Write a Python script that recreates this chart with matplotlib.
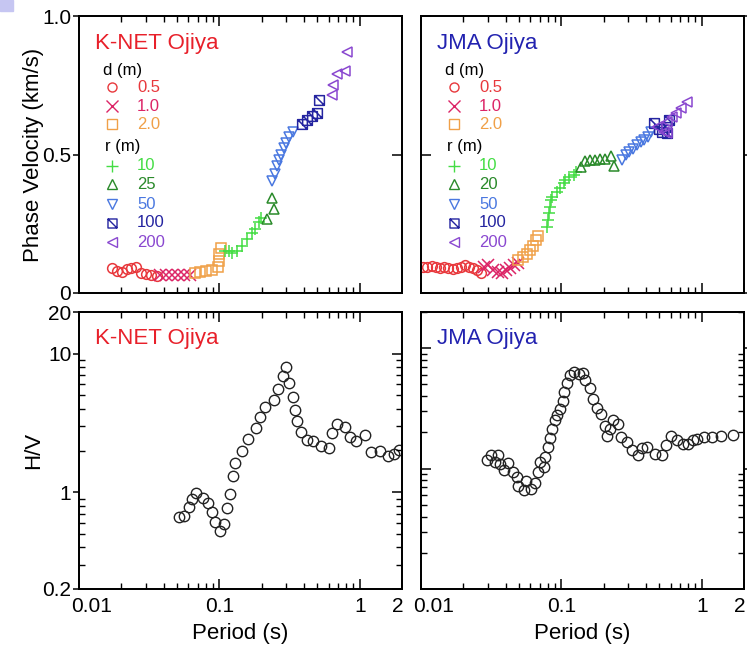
import matplotlib
matplotlib.use("Agg")
import matplotlib.pyplot as plt
from matplotlib.path import Path
from matplotlib.patches import Rectangle
from matplotlib.ticker import FixedLocator, NullFormatter
from matplotlib.transforms import ScaledTranslation

plt.rcParams['font.family'] = ['Liberation Sans', 'DejaVu Sans']

# ---- phase velocity, K-NET Ojiya ----
kn_d05_T = [0.0171, 0.0186, 0.0202, 0.0219, 0.0235, 0.0255, 0.0276, 0.0301, 0.0325, 0.0359]
kn_d05_v = [0.089, 0.081, 0.077, 0.086, 0.089, 0.095, 0.071, 0.069, 0.065, 0.061]
kn_d10_T = [0.0379, 0.0418, 0.0459, 0.0507, 0.0556, 0.0614]
kn_d10_v = [0.064, 0.064, 0.064, 0.064, 0.064, 0.066]
kn_d20_T = [0.067, 0.073, 0.080, 0.088, 0.097, 0.099, 0.100, 0.102]
kn_d20_v = [0.071, 0.076, 0.080, 0.083, 0.095, 0.115, 0.140, 0.163]
kn_r10_T = [0.110, 0.117, 0.123, 0.134, 0.145, 0.158, 0.170, 0.180, 0.191, 0.197]
kn_r10_v = [0.152, 0.150, 0.145, 0.150, 0.170, 0.195, 0.215, 0.232, 0.255, 0.270]
kn_r25_T = [0.219, 0.238, 0.244]
kn_r25_v = [0.267, 0.342, 0.303]
kn_r50_T = [0.238, 0.250, 0.258, 0.266, 0.275, 0.287, 0.300, 0.315, 0.332]
kn_r50_v = [0.405, 0.430, 0.458, 0.480, 0.500, 0.522, 0.543, 0.562, 0.580]
kn_r100_T = [0.390, 0.418, 0.459, 0.499, 0.512]
kn_r100_v = [0.610, 0.626, 0.640, 0.650, 0.698]
kn_r200_T = [0.638, 0.645, 0.690, 0.790, 0.805]
kn_r200_v = [0.715, 0.752, 0.790, 0.800, 0.871]

# ---- phase velocity, JMA Ojiya ----
jm_d05_T = [0.0104, 0.0111, 0.0119, 0.0128, 0.0137, 0.0147, 0.0157, 0.0168, 0.0180,
            0.0193, 0.0206, 0.0221, 0.0236, 0.0252, 0.0268]
jm_d05_v = [0.095, 0.095, 0.097, 0.093, 0.089, 0.093, 0.089, 0.086, 0.089,
            0.095, 0.101, 0.095, 0.089, 0.083, 0.071]
jm_d10_T = [0.0279, 0.0302, 0.0325, 0.0351, 0.0377, 0.0405, 0.0432, 0.0462, 0.0487]
jm_d10_v = [0.095, 0.101, 0.083, 0.077, 0.071, 0.083, 0.089, 0.101, 0.109]
jm_d20_T = [0.049, 0.053, 0.057, 0.060, 0.063, 0.066, 0.068]
jm_d20_v = [0.120, 0.130, 0.140, 0.155, 0.170, 0.190, 0.205]
jm_r10_T = [0.079, 0.080, 0.081, 0.0827, 0.0846, 0.086, 0.0931, 0.0984, 0.1038,
            0.1067, 0.1128, 0.1224, 0.1262]
jm_r10_v = [0.239, 0.264, 0.288, 0.312, 0.336, 0.348, 0.366, 0.378, 0.396,
            0.408, 0.420, 0.426, 0.438]
jm_r20_T = [0.137, 0.148, 0.161, 0.175, 0.188, 0.206, 0.224, 0.2365]
jm_r20_v = [0.456, 0.478, 0.481, 0.480, 0.484, 0.482, 0.494, 0.457]
jm_r50_T = [0.272, 0.287, 0.303, 0.325, 0.347, 0.367, 0.387, 0.413, 0.432]
jm_r50_v = [0.480, 0.498, 0.510, 0.519, 0.534, 0.546, 0.552, 0.564, 0.582]
jm_r100_T = [0.456, 0.495, 0.524, 0.553, 0.569, 0.584]
jm_r100_v = [0.613, 0.591, 0.582, 0.600, 0.577, 0.625]
jm_r200_T = [0.483, 0.538, 0.569, 0.569, 0.618, 0.652, 0.708, 0.790]
jm_r200_v = [0.600, 0.582, 0.577, 0.618, 0.636, 0.649, 0.667, 0.691]

# ---- H/V spectral ratio ----
kn_hv_T = [0.0512, 0.0562, 0.0604, 0.0638, 0.0685, 0.0765, 0.0826, 0.0887, 0.0936, 0.1005,
           0.1086, 0.1135, 0.1185, 0.1253, 0.130, 0.145, 0.159, 0.181, 0.196, 0.213,
           0.244, 0.261, 0.285, 0.296, 0.313, 0.336, 0.343, 0.355, 0.379, 0.418,
           0.467, 0.526, 0.604, 0.638, 0.693, 0.781, 0.853, 0.936, 1.086, 1.199,
           1.397, 1.59, 1.76, 1.91]
kn_hv = [0.659, 0.677, 0.778, 0.891, 0.984, 0.906, 0.834, 0.716, 0.614, 0.521,
         0.588, 0.764, 0.978, 1.31, 1.63, 1.97, 2.42, 2.90, 3.47, 4.09,
         4.62, 5.60, 6.85, 7.98, 6.14, 4.87, 3.92, 3.28, 2.70, 2.39,
         2.36, 2.17, 2.08, 2.67, 3.11, 2.98, 2.50, 2.33, 2.60, 1.94,
         1.97, 1.82, 1.90, 2.03]
jm_hv_T = [0.0295, 0.0315, 0.0351, 0.0338, 0.0367, 0.0391, 0.0420, 0.0452, 0.0483, 0.0487,
           0.0538, 0.0562, 0.0608, 0.0652, 0.0677, 0.0708, 0.0756, 0.0769, 0.0798, 0.0825,
           0.0858, 0.0906, 0.0932, 0.0973, 0.1028, 0.105, 0.1099, 0.1159, 0.1239, 0.133,
           0.143, 0.1484, 0.159, 0.168, 0.180, 0.192, 0.203, 0.212, 0.221, 0.234,
           0.252, 0.264, 0.295, 0.320, 0.351, 0.377, 0.409, 0.462, 0.524, 0.553,
           0.601, 0.67, 0.74, 0.798, 0.873, 0.932, 1.04, 1.19, 1.38, 1.66]
jm_hv = [1.17, 1.31, 1.31, 1.13, 1.10, 0.98, 1.11, 0.937, 0.852, 0.713,
         0.661, 0.789, 0.683, 0.76, 0.937, 1.13, 1.03, 1.25, 1.51, 1.81,
         2.15, 2.52, 2.77, 3.15, 3.68, 4.32, 5.13, 5.94, 6.32, 6.14,
         6.21, 5.47, 4.70, 3.80, 3.21, 2.86, 2.24, 1.85, 2.15, 2.52,
         2.33, 1.83, 1.66, 1.42, 1.31, 1.47, 1.51, 1.33, 1.29, 1.56,
         1.85, 1.72, 1.59, 1.59, 1.72, 1.77, 1.83, 1.83, 1.85, 1.92]

# legend entries
d_labels = ['0.5', '1.0', '2.0']
r_labels_kn = ['10', '25', '50', '100', '200']
r_labels_jm = ['10', '20', '50', '100', '200']

c_red = '#e8383c'
c_crim = '#dc2466'
c_orng = '#f0a048'
c_grn = '#44dd44'
c_dgrn = '#2a8a2a'
c_blue = '#4a78e0'
c_dblu = '#2424a0'
c_purp = '#8a48d0'

box_diag = Path([(-1, -1), (1, -1), (1, 1), (-1, 1), (-1, -1), (-1, 1), (1, -1)],
                [Path.MOVETO, Path.LINETO, Path.LINETO, Path.LINETO, Path.CLOSEPOLY,
                 Path.MOVETO, Path.LINETO])

styles = [('o', c_red), ('x', c_crim), ('s', c_orng),
          ('+', c_grn), ('^', c_dgrn), ('v', c_blue), (box_diag, c_dblu), ('<', c_purp)]

W, H = 747, 646
fig = plt.figure(figsize=(W / 100, H / 100), dpi=100)
fig.patches.append(Rectangle((0, 1 - 11 / H), 13 / W, 11 / H, transform=fig.transFigure,
                             color='#c6c6f2', zorder=0))


def make_ax(x0, y0):
    return fig.add_axes([x0 / W, 1 - (y0 + 277) / H, 323 / W, 277 / H])


ax_pk = make_ax(79, 16)
ax_pj = make_ax(421, 16)
ax_hk = make_ax(79, 312)
ax_hj = make_ax(421, 312)

tick_fs = 15


def shift(label, dx):
    label.set_transform(label.get_transform() + ScaledTranslation(dx / 100, 0, fig.dpi_scale_trans))


def setup_x(ax, labels):
    ax.set_xscale('log')
    ax.set_xlim(0.01, 2)
    ax.xaxis.set_major_locator(FixedLocator([0.01, 0.1, 1, 2]))
    ax.xaxis.set_minor_locator(FixedLocator([k * 0.01 for k in range(2, 10)] +
                                            [k * 0.1 for k in range(2, 10)]))
    ax.xaxis.set_minor_formatter(NullFormatter())
    ax.tick_params(axis='x', which='both', direction='in', top=True, bottom=True, pad=6)
    ax.tick_params(axis='x', which='major', length=7, width=1.1)
    ax.tick_params(axis='x', which='minor', length=4, width=1.0)
    if labels:
        ax.set_xticklabels(['0.01', '0.1', '1', '2'], fontsize=tick_fs)
        ax.set_xlabel('Period (s)', fontsize=16, labelpad=5)
        lbls = ax.get_xticklabels()
        shift(lbls[0], 13)
        shift(lbls[3], -4)
    else:
        ax.set_xticklabels([])


def setup_y(ax, outer_left, log, lim, major, minor):
    if log:
        ax.set_yscale('log')
    ax.set_ylim(*lim)
    twin = ax.twinx()
    if log:
        twin.set_yscale('log')
    twin.set_ylim(*lim)
    for a in (ax, twin):
        a.yaxis.set_major_locator(FixedLocator(major))
        a.yaxis.set_minor_locator(FixedLocator(minor))
        a.yaxis.set_minor_formatter(NullFormatter())
        a.tick_params(axis='y', which='major', length=7, width=1.1, direction='in', pad=1)
        a.tick_params(axis='y', which='minor', length=4, width=1.0, direction='in')
    outer = ax if outer_left else twin
    outer.tick_params(axis='y', which='major', direction='out', length=4.5)
    twin.set_yticklabels([])
    twin.tick_params(labelright=False)
    for s in twin.spines.values():
        s.set_linewidth(1.3)
    return twin


for ax in (ax_pk, ax_pj, ax_hk, ax_hj):
    for s in ax.spines.values():
        s.set_linewidth(1.3)

setup_x(ax_pk, False)
setup_x(ax_pj, False)
setup_x(ax_hk, True)
setup_x(ax_hj, True)

setup_y(ax_pk, True, False, (0, 1.0), [0, 0.5, 1.0], [])
ax_pk.set_yticklabels(['0', '0.5', '1.0'], fontsize=tick_fs)
setup_y(ax_pj, False, False, (0, 1.0), [0, 0.5, 1.0], [])
ax_pj.set_yticklabels([])

hv_minor = [k * 0.1 for k in range(2, 10)] + [float(k) for k in range(2, 10)] + [20]
setup_y(ax_hk, True, True, (0.2, 20), [0.2, 1, 10, 20], hv_minor)
ax_hk.set_yticklabels(['0.2', '1', '10', '20'], fontsize=tick_fs)
setup_y(ax_hj, False, True, (0.1, 20), [1, 10], hv_minor)
ax_hj.set_yticklabels([])

ax_pk.set_ylabel('Phase Velocity (km/s)', fontsize=16)
ax_pk.yaxis.set_label_coords(-0.109, 0.5)
ax_hk.set_ylabel('H/V', fontsize=16)
ax_hk.yaxis.set_label_coords(-0.109, 0.5)

# phase velocity markers
kn_sets = [(kn_d05_T, kn_d05_v), (kn_d10_T, kn_d10_v), (kn_d20_T, kn_d20_v),
           (kn_r10_T, kn_r10_v), (kn_r25_T, kn_r25_v), (kn_r50_T, kn_r50_v),
           (kn_r100_T, kn_r100_v), (kn_r200_T, kn_r200_v)]
jm_sets = [(jm_d05_T, jm_d05_v), (jm_d10_T, jm_d10_v), (jm_d20_T, jm_d20_v),
           (jm_r10_T, jm_r10_v), (jm_r20_T, jm_r20_v), (jm_r50_T, jm_r50_v),
           (jm_r100_T, jm_r100_v), (jm_r200_T, jm_r200_v)]

for ax, sets in ((ax_pk, kn_sets), (ax_pj, jm_sets)):
    for (T, v), (m, c) in zip(sets, styles):
        ms = 8.5 if m in ('+', 'x') else 7
        ax.plot(T, v, ls='none', marker=m, ms=ms, mfc='none', mec=c, mew=1.1, zorder=3)

# inset legends
def legend(ax, title, tcolor, r_labels):
    ax.text(0.05, 0.90, title, transform=ax.transAxes, color=tcolor, fontsize=16,
            va='center', ha='left')
    rows_y = [0.743, 0.675, 0.609, 0.46, 0.392, 0.321, 0.254, 0.183]
    labs = d_labels + r_labels
    ax.text(0.074, 0.805, 'd (m)', transform=ax.transAxes, fontsize=12, va='center')
    ax.text(0.08, 0.528, 'r (m)', transform=ax.transAxes, fontsize=12, va='center')
    for y, lab, (m, c) in zip(rows_y, labs, styles):
        ms = 8 if m in ('+', 'x') else 6.5
        ax.plot([0.101], [y], transform=ax.transAxes, ls='none', marker=m, ms=ms,
                mfc='none', mec=c, mew=1.0, clip_on=False)
        ax.text(0.18, y, lab, transform=ax.transAxes, color=c, fontsize=12, va='center')


legend(ax_pk, 'K-NET Ojiya', '#e8202a', r_labels_kn)
legend(ax_pj, 'JMA Ojiya', '#2222b0', r_labels_jm)

# H/V
for ax, T, hv, title, tc in ((ax_hk, kn_hv_T, kn_hv, 'K-NET Ojiya', '#e8202a'),
                             (ax_hj, jm_hv_T, jm_hv, 'JMA Ojiya', '#2222b0')):
    ax.plot(T, hv, ls='none', marker='o', ms=7.5, mfc='none', mec='#222222', mew=1.0)
    ax.text(0.05, 0.905, title, transform=ax.transAxes, color=tc, fontsize=16,
            va='center', ha='left')

fig.savefig('out.png', dpi=100)
